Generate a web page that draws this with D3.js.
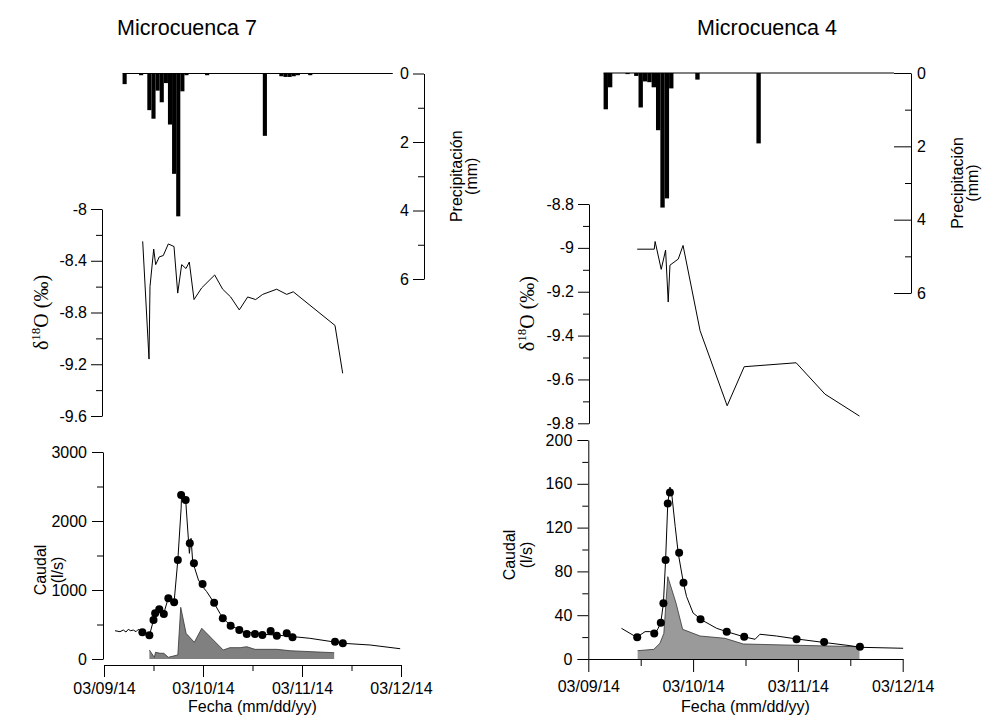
<!DOCTYPE html>
<html>
<head>
<meta charset="utf-8">
<script src="https://cdn.jsdelivr.net/npm/d3@7"></script>
<style>
body { margin: 0; background: #fff; }
svg text { font-family: "Liberation Sans", Arial, sans-serif; fill: #000; }
</style>
</head>
<body>
<script>
// all times are hours after 03/09/14 00:00

// Microcuenca 7
var rain7Hours = [5, 9, 11, 12, 13, 14, 15, 16, 17, 18, 19, 20, 25, 39, 43, 44, 45, 46, 47, 50, 70];
var rain7Mm = [0.31, 0.05, 1.07, 1.32, 0.5, 0.84, 0.28, 1.49, 2.93, 4.17, 0.52, 0.05, 0.05, 1.82, 0.08, 0.1, 0.1, 0.08, 0.05, 0.05, 0];

var iso7Hours = [9.38, 10.91, 11.15, 12.05, 12.53, 13.4, 14.37, 15.59, 16.97, 17.87, 18.83, 19.88, 20.68, 21.82, 23.68, 26.83, 28.77, 30.71, 32.8, 34.83, 36.77, 38.47, 41.86, 44.29, 45.89, 56, 57.86];
var iso7Vals = [-8.25, -9.16, -8.6, -8.31, -8.43, -8.37, -8.36, -8.27, -8.29, -8.65, -8.43, -8.46, -8.41, -8.7, -8.61, -8.51, -8.62, -8.68, -8.78, -8.68, -8.7, -8.66, -8.62, -8.66, -8.64, -8.9, -9.27];

var q7LineHours = [2.67, 3.88, 4.68, 5.33, 5.89, 6.47, 7.1, 7.76, 8.31, 9.14, 11, 12, 12.8, 13.6, 14.5, 15.6, 17, 17.9, 18.7, 18.8, 19.4, 19.8, 20.3, 20.7, 21.1, 21.5, 22, 22.9, 23.9, 24.9, 26.5, 28.1, 29.7, 31.3, 33.8, 37.8, 43.5, 49.9, 58, 64.5, 71.8];
var q7LineVals = [410, 396, 420, 391, 430, 410, 420, 396, 430, 396, 338, 565, 686, 734, 662, 889, 831, 1435, 2184, 2377, 2329, 2304, 1870, 1531, 1749, 1410, 1314, 1145, 1048, 976, 831, 662, 541, 468, 396, 362, 338, 300, 227, 203, 149];

var q7SampleHours = [9.3, 11, 12, 12.4, 13.4, 14.5, 15.6, 17, 17.9, 18.7, 19.8, 20.8, 21.8, 23.9, 26.7, 28.8, 30.7, 32.8, 34.6, 36.6, 38.4, 40.4, 41.9, 44.3, 45.7, 56, 57.9];
var q7SampleVals = [387, 343, 565, 662, 720, 652, 880, 822, 1435, 2377, 2304, 1677, 1387, 1087, 816, 590, 483, 420, 362, 362, 348, 406, 338, 372, 314, 251, 227];

var q7AreaHours = [11, 12.2, 12.5, 13.6, 14.5, 15.6, 16.8, 17.9, 18.6, 19.9, 21.9, 23.7, 28.9, 30.5, 33, 34.6, 36.6, 41.9, 45.1, 55.8];
var q7AreaVals = [130, 25, 97, 83, 83, 25, 43, 58, 749, 372, 242, 445, 130, 164, 164, 178, 140, 140, 120, 91];

// Microcuenca 4
var rain4Hours = [4, 5, 9, 11, 12, 13, 14, 15, 16, 17, 18, 19, 25, 39, 70];
var rain4Mm = [0.99, 0.39, 0.03, 0.08, 0.94, 0.23, 0.25, 0.39, 1.56, 3.67, 3.42, 0.42, 0.18, 1.92, 0];

var iso4Hours = [11.2, 15.1, 15.3, 16.7, 17.7, 18.3, 18.7, 20.6, 21.7, 25.6, 31.8, 35.7, 47.6, 54.2, 62.1];
var iso4Vals = [-9.006, -9.006, -8.971, -9.098, -9.01, -9.247, -9.079, -9.051, -8.989, -9.378, -9.72, -9.542, -9.524, -9.667, -9.767];

var q4LineHours = [7.6, 11.1, 13, 14.1, 15.3, 16, 16.6, 17.2, 17.7, 18.2, 18.7, 19.1, 19.9, 20.6, 21.8, 22.5, 24, 26, 29.4, 31.7, 35.5, 38.2, 39.3, 43.1, 47.7, 53.8, 59.9, 62.2, 72.1];
var q4LineVals = [28, 19.8, 25, 25, 23.4, 28, 33, 51, 90, 142, 157, 151, 121, 96.5, 69, 57, 42, 35.6, 28, 25, 20.4, 18, 22.6, 21, 18.3, 15.2, 12.2, 10.7, 9.8];

var q4SampleHours = [11.2, 15.1, 16.6, 17.2, 17.7, 18.2, 18.7, 20.8, 21.8, 25.7, 31.7, 35.7, 47.7, 54, 62.2];
var q4SampleVals = [19.8, 23.4, 33.2, 50.9, 90.4, 142, 152, 97, 69.7, 36.2, 25, 20.4, 18, 15.5, 11.2];

var q4AreaHours = [11.3, 15, 16.4, 17.3, 18.2, 20.1, 21.6, 25.6, 31.3, 35.5, 62.1];
var q4AreaVals = [7.6, 8.8, 14.3, 23.4, 75.2, 50.9, 27.1, 21, 18.9, 13.7, 11.2];

var dayTicks = [0, 24, 48, 72];
var halfDayTicks = [12, 36, 60];

var t0 = Date.UTC(2014, 2, 9);
function toDate(h) { return new Date(t0 + h * 3600e3); }
function pairs(hs, vs) { return hs.map((h, i) => ({ h: h, v: vs[i] })); }
function fmt(d) { return String(+d.toFixed(1)); }

var svg = d3.select("body")
    .append("svg")
    .attr("width", 988)
    .attr("height", 721);

function styleAxis(g) {
    g.attr("font-size", 16).attr("font-family", null);
    g.selectAll("text").attr("fill", "#000");
    g.selectAll("line, path").attr("stroke", "#000");
}

// one left axis with big labelled ticks and small unlabelled ones
function leftAxis(y, xPos, major, minor, format, pad) {
    svg.append("g")
        .attr("transform", `translate(${xPos},0)`)
        .call(d3.axisLeft(y).tickValues(minor).tickSize(6).tickFormat(""))
        .call(g => g.select(".domain").remove())
        .call(styleAxis);
    svg.append("g")
        .attr("transform", `translate(${xPos},0)`)
        .call(d3.axisLeft(y).tickValues(major).tickSizeInner(11).tickSizeOuter(0).tickPadding(pad).tickFormat(format))
        .call(styleAxis);
}

function rotText(x, y, str, size) {
    return svg.append("text")
        .attr("transform", `translate(${x},${y}) rotate(-90)`)
        .attr("text-anchor", "middle")
        .attr("font-size", size)
        .text(str);
}

function drawSite(c) {
    var x = d3.scaleUtc().domain([toDate(0), toDate(72)]).range(c.xRange);
    var hx = h => x(toDate(h));

    // title
    svg.append("text")
        .attr("x", c.titleX)
        .attr("y", 35)
        .attr("text-anchor", "middle")
        .attr("font-size", 21.5)
        .text(c.title);

    // precipitation, hanging bars
    var yP = d3.scaleLinear().domain([0, 6]).range(c.pRange);
    var rain = pairs(c.rainHours, c.rainMm);
    svg.append("line")
        .attr("x1", hx(d3.min(c.rainHours) - 0.5))
        .attr("x2", hx(d3.max(c.rainHours)))
        .attr("y1", yP(0)).attr("y2", yP(0))
        .attr("stroke", "#000");
    svg.append("g")
        .selectAll("rect")
        .data(rain.filter(d => d.v > 0))
        .enter()
        .append("rect")
        .attr("x", d => hx(d.h - 0.5))
        .attr("width", d => hx(d.h + 0.5) - hx(d.h - 0.5))
        .attr("y", yP(0))
        .attr("height", d => yP(d.v) - yP(0))
        .attr("fill", "#000");

    if (c.pLabelsRight) {
        svg.append("g")
            .attr("transform", `translate(${c.pAxisX},0)`)
            .call(d3.axisRight(yP).tickValues([1, 3, 5]).tickSizeInner(-6).tickSizeOuter(0).tickFormat(""))
            .call(g => g.select(".domain").remove())
            .call(styleAxis);
        svg.append("g")
            .attr("transform", `translate(${c.pAxisX},0)`)
            .call(d3.axisRight(yP).tickValues([0, 2, 4, 6]).tickSizeInner(-17).tickSizeOuter(0)
                .tickPadding(6).tickFormat(d3.format("d")))
            .call(styleAxis);
    } else {
        leftAxis(yP, c.pAxisX, [0, 2, 4, 6], [1, 3, 5], d3.format("d"), 4);
    }
    rotText(c.pLabelX, yP(3), "Precipitación", 16);
    rotText(c.pLabelX + 15, yP(3), "(mm)", 16);

    // delta 18O
    var yI = d3.scaleLinear().domain(c.iDomain).range(c.iRange);
    leftAxis(yI, c.iAxisX, c.iMajor, c.iMinor, fmt, 4);
    svg.append("path")
        .datum(pairs(c.isoHours, c.isoVals))
        .attr("fill", "none")
        .attr("stroke", "#000")
        .attr("stroke-width", 1)
        .attr("d", d3.line().x(d => hx(d.h)).y(d => yI(d.v)));
    var lab = svg.append("text")
        .attr("transform", `translate(${c.iLabelX},${yI((c.iDomain[0] + c.iDomain[1]) / 2)}) rotate(-90)`)
        .attr("text-anchor", "middle")
        .attr("font-size", 20)
        .style("font-family", "'Liberation Serif', 'Times New Roman', serif");
    lab.append("tspan").text("δ");
    lab.append("tspan").attr("font-size", 13).attr("dy", -8).text("18");
    lab.append("tspan").attr("dy", 8).text("O (‰)");

    // discharge
    var yQ = d3.scaleLinear().domain(c.qDomain).range(c.qRange);
    leftAxis(yQ, c.qAxisX, c.qMajor, c.qMinor, d3.format("d"), 5);

    var area = pairs(c.areaHours, c.areaVals);
    svg.append("path")
        .datum(area)
        .attr("fill", c.areaFill)
        .attr("d", d3.area().x(d => hx(d.h)).y0(yQ(0)).y1(d => yQ(d.v)));
    svg.append("path")
        .datum(area)
        .attr("fill", "none")
        .attr("stroke", "#333")
        .attr("stroke-width", 0.8)
        .attr("d", d3.line().x(d => hx(d.h)).y(d => yQ(d.v)));

    svg.append("path")
        .datum(pairs(c.lineHours, c.lineVals))
        .attr("fill", "none")
        .attr("stroke", "#000")
        .attr("stroke-width", 1)
        .attr("d", d3.line().x(d => hx(d.h)).y(d => yQ(d.v)));

    svg.append("g")
        .selectAll("circle")
        .data(pairs(c.sampleHours, c.sampleVals))
        .enter()
        .append("circle")
        .attr("cx", d => hx(d.h))
        .attr("cy", d => yQ(d.v))
        .attr("r", 4)
        .attr("fill", "#000");

    rotText(c.qLabelX, c.qLabelY, "Caudal", 16);
    rotText(c.qLabelX + 17, c.qLabelY, "(l/s)", 16);

    // time axis
    svg.append("g")
        .attr("transform", `translate(0,${c.xAxisY})`)
        .call(d3.axisBottom(x).tickValues(halfDayTicks.map(toDate)).tickSize(c.xMinor).tickFormat(""))
        .call(g => g.select(".domain").remove())
        .call(styleAxis);
    svg.append("g")
        .attr("transform", `translate(0,${c.xAxisY})`)
        .call(d3.axisBottom(x).tickValues(dayTicks.map(toDate)).tickSizeInner(c.xMajor).tickSizeOuter(0)
            .tickPadding(c.xPad).tickFormat(d3.utcFormat("%m/%d/%y")))
        .call(styleAxis);
    svg.append("text")
        .attr("x", (c.xRange[0] + c.xRange[1]) / 2)
        .attr("y", 712)
        .attr("text-anchor", "middle")
        .attr("font-size", 16)
        .text("Fecha (mm/dd/yy)");
}

drawSite({
    title: "Microcuenca 7", titleX: 187,
    xRange: [104, 401], xAxisY: 665, xMajor: 12, xMinor: 6, xPad: 6,
    rainHours: rain7Hours, rainMm: rain7Mm,
    pRange: [73.5, 279], pAxisX: 424, pLabelsRight: false, pLabelX: 462,
    isoHours: iso7Hours, isoVals: iso7Vals,
    iDomain: [-9.6, -8], iRange: [416, 209], iAxisX: 102,
    iMajor: [-9.6, -9.2, -8.8, -8.4, -8], iMinor: [-9.4, -9, -8.6, -8.2], iLabelX: 48,
    lineHours: q7LineHours, lineVals: q7LineVals,
    sampleHours: q7SampleHours, sampleVals: q7SampleVals,
    areaHours: q7AreaHours, areaVals: q7AreaVals, areaFill: "#808080",
    qDomain: [0, 3000], qRange: [659, 452], qAxisX: 103,
    qMajor: [0, 1000, 2000, 3000], qMinor: [500, 1500, 2500], qLabelX: 46, qLabelY: 570
});

drawSite({
    title: "Microcuenca 4", titleX: 767,
    xRange: [588.3, 902.7], xAxisY: 659, xMajor: 13, xMinor: 7, xPad: 9,
    rainHours: rain4Hours, rainMm: rain4Mm,
    pRange: [73, 293], pAxisX: 911, pLabelsRight: true, pLabelX: 963,
    isoHours: iso4Hours, isoVals: iso4Vals,
    iDomain: [-9.8, -8.8], iRange: [423.3, 204], iAxisX: 589,
    iMajor: [-9.8, -9.6, -9.4, -9.2, -9, -8.8], iMinor: [-9.7, -9.5, -9.3, -9.1, -8.9], iLabelX: 534,
    lineHours: q4LineHours, lineVals: q4LineVals,
    sampleHours: q4SampleHours, sampleVals: q4SampleVals,
    areaHours: q4AreaHours, areaVals: q4AreaVals, areaFill: "#9a9a9a",
    qDomain: [0, 200], qRange: [659, 440], qAxisX: 588.3,
    qMajor: [0, 40, 80, 120, 160, 200], qMinor: [20, 60, 100, 140, 180], qLabelX: 515, qLabelY: 555
});
</script>
</body>
</html>
